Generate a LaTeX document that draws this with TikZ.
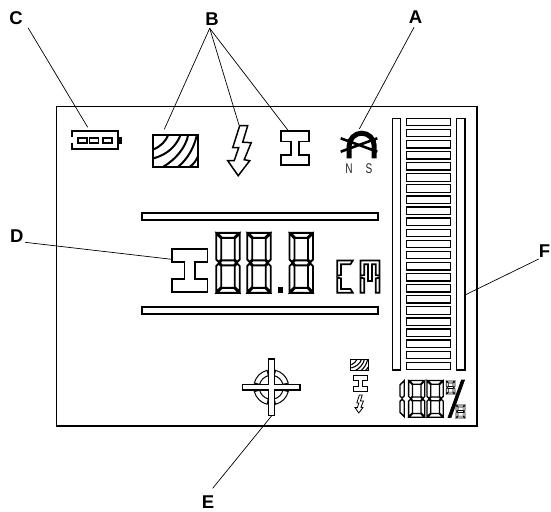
\documentclass[tikz,border=0pt]{standalone}
\usepackage{fontspec}
\setmainfont{Liberation Sans}
\newcommand{\sgA}{\filldraw[seg] (\dx+\dg,\dy) -- (\dx+\dw-\dg,\dy) -- (\dx+\dw-\dt-\dg,\dy+\dt) -- (\dx+\dt+\dg,\dy+\dt) -- cycle;}
\newcommand{\sgD}{\filldraw[seg] (\dx+\dg,\dy+\dh) -- (\dx+\dw-\dg,\dy+\dh) -- (\dx+\dw-\dt-\dg,\dy+\dh-\dt) -- (\dx+\dt+\dg,\dy+\dh-\dt) -- cycle;}
\newcommand{\sgG}{\filldraw[seg] (\dx+\dg+\dt/2,\dy+\dh/2) -- (\dx+\dt+\dg,\dy+\dh/2-\dt/2) -- (\dx+\dw-\dt-\dg,\dy+\dh/2-\dt/2) -- (\dx+\dw-\dt/2-\dg,\dy+\dh/2) -- (\dx+\dw-\dt-\dg,\dy+\dh/2+\dt/2) -- (\dx+\dt+\dg,\dy+\dh/2+\dt/2) -- cycle;}
\newcommand{\sgF}{\filldraw[seg] (\dx,\dy+\dg) -- (\dx+\dt,\dy+\dt+\dg) -- (\dx+\dt,\dy+\dh/2-\dt/2-\dg) -- (\dx+\dt/2,\dy+\dh/2-\dg) -- (\dx,\dy+\dh/2-\dt/2-\dg) -- cycle;}
\newcommand{\sgE}{\filldraw[seg] (\dx,\dy+\dh-\dg) -- (\dx+\dt,\dy+\dh-\dt-\dg) -- (\dx+\dt,\dy+\dh/2+\dt/2+\dg) -- (\dx+\dt/2,\dy+\dh/2+\dg) -- (\dx,\dy+\dh/2+\dt/2+\dg) -- cycle;}
\newcommand{\sgB}{\filldraw[seg] (\dx+\dw,\dy+\dg) -- (\dx+\dw-\dt,\dy+\dt+\dg) -- (\dx+\dw-\dt,\dy+\dh/2-\dt/2-\dg) -- (\dx+\dw-\dt/2,\dy+\dh/2-\dg) -- (\dx+\dw,\dy+\dh/2-\dt/2-\dg) -- cycle;}
\newcommand{\sgC}{\filldraw[seg] (\dx+\dw,\dy+\dh-\dg) -- (\dx+\dw-\dt,\dy+\dh-\dt-\dg) -- (\dx+\dw-\dt,\dy+\dh/2+\dt/2+\dg) -- (\dx+\dw-\dt/2,\dy+\dh/2+\dg) -- (\dx+\dw,\dy+\dh/2+\dt/2+\dg) -- cycle;}
\newcommand{\setdig}[6]{\def\dx{#1}\def\dy{#2}\def\dw{#3}\def\dh{#4}\def\dt{#5}\def\dg{#6}}
\newcommand{\eightseg}[6]{\setdig{#1}{#2}{#3}{#4}{#5}{#6}\sgA\sgB\sgC\sgD\sgE\sgF\sgG}
\newcommand{\beamshape}[4]{% x y w h
  \filldraw[icon] (#1,#2) -- ++(#3,0) -- ++(0,{0.3*#4}) -- ++({-0.35*#3},0) -- ++(0,{0.4*#4}) -- ++({0.35*#3},0) -- ++(0,{0.3*#4}) -- ++({-#3},0) -- ++(0,{-0.3*#4}) -- ++({0.35*#3},0) -- ++(0,{-0.4*#4}) -- ++({-0.35*#3},0) -- cycle;}
\newcommand{\woodshape}[5]{% x y w h lw
  \begin{scope}
  \clip (#1,#2) rectangle ++(#3,#4);
  \begin{scope}[shift={(#1,#2)},xscale=#3/138,yscale=#4/97,line width=#5]
  \draw (3,45) .. controls (25,35) and (40,20) .. (48,0);
  \draw (3,72) .. controls (45,60) and (72,35) .. (85,0);
  \draw (33,97) .. controls (70,75) and (100,40) .. (108,0);
  \draw (78,97) .. controls (105,75) and (125,40) .. (133,5);
  \draw (113,97) .. controls (125,90) and (133,75) .. (138,65);
  \end{scope}
  \end{scope}
  \draw[line width=#5] (#1,#2) rectangle ++(#3,#4);}
\newcommand{\boltshape}[4]{% x y scale lw
  \begin{scope}[shift={(#1,#2)},scale=#3]
  \draw[line width=#4,line join=miter,fill=white] (12,0) -- (20,0) -- (15,16.5) -- (23.5,17) -- (16.5,34) -- (22,35) -- (10.5,50) -- (0,35) -- (6.5,35) -- (11,22) -- (5,22) -- cycle;
  \end{scope}}
\tikzset{
  seg/.style={draw=black,fill=white,line width=1.9pt,line join=miter},
  icon/.style={draw=black,fill=white,line width=1.6pt,line join=miter},
  panel/.style={draw=black,fill=white,line width=1.3pt},
  conn/.style={draw=black,line width=0.7pt},
  lab/.style={font=\bfseries\fontsize{18.5}{18.5}\selectfont,text=black,inner sep=0pt},
  pole/.style={font=\fontsize{14}{14}\selectfont,text=black!85,inner sep=0pt,xscale=.72,transform shape}
}
\begin{document}
\begin{tikzpicture}[x=1pt,y=-1pt]
\useasboundingbox (0,0) rectangle (551,511);
% frame
\draw[black,line width=1.5pt] (56.5,106.5) rectangle (477,426);
% bargraph
\draw[panel] (392.3,118.3) rectangle (400.7,370);
\draw[panel] (456.7,118.3) rectangle (465,370);
\foreach \i in {0,...,22}
  \draw[panel] (406.7,{118.3+11.09*\i}) rectangle (450.7,{125.7+11.09*\i});
% horizontal bars
\draw[panel,line width=1.8pt] (141.7,213) rectangle (378.3,220.3);
\draw[panel,line width=1.8pt] (141.7,307) rectangle (378.3,314.3);
% main readout
\beamshape{172}{249}{35.5}{43}
\eightseg{216.2}{232.8}{23.5}{60}{5}{0.8}
\eightseg{247.2}{232.8}{23.5}{60}{5}{0.8}
\eightseg{289.5}{232.8}{23.5}{60}{5}{0.8}
\fill[black] (278.3,286.7) rectangle (283.3,293.3);
% cm
\begin{scope}[seg/.append style={line width=1.7pt}]
\filldraw[seg] (337.2,260.5) -- (352.8,260.5) -- (350.5,264.2) -- (341,264.2) -- (341,275) -- (337.2,275.8) -- cycle;
\filldraw[seg] (337.2,277.6) -- (341,278.4) -- (341,289) -- (350.5,289) -- (352.8,292.8) -- (337.2,292.8) -- cycle;
\filldraw[seg] (360.5,260.5) -- (379.5,260.5) -- (379.5,275.8) -- (375.8,275) -- (375.8,264.2) -- (372,264.2) -- (372,281) -- (368,281) -- (368,264.2) -- (364.2,264.2) -- (364.2,275) -- (360.5,275.8) -- cycle;
\filldraw[seg] (360.5,277.6) -- (364.2,278.4) -- (364.2,292.8) -- (360.5,292.8) -- cycle;
\filldraw[seg] (375.8,278.4) -- (379.5,277.6) -- (379.5,292.8) -- (375.8,292.8) -- cycle;
\end{scope}
% battery
\draw[black,line width=2pt] (72.2,137) -- (72.2,131.2) -- (118,131.2) -- (118,149) -- (72.2,149) -- (72.2,143);
\fill[black] (118.3,136.7) rectangle (122.3,144);
\foreach \x in {77.8,89.5,103.2}
  \draw[black,line width=1.8pt] (\x,137.6) rectangle ++(9,5.4);
% wood
\woodshape{152.6}{134.6}{45.6}{32}{2pt}
% bolt
\boltshape{227.7}{125.7}{1}{1.5pt}
% top beam
\beamshape{281}{131.2}{28}{34}
% magnet
\draw[black,line width=5pt] (349.2,158.3) -- (349.2,145.7) arc[start angle=180,end angle=360,radius=12.5] -- (374.2,158.3);
\draw[black,line width=2.6pt] (340.7,138.3) -- (377.3,151.7);
\draw[black,line width=2.6pt] (340.7,151.7) -- (377.3,138.3);
\node[pole] (poleN) at (349,168.3) {N};
\node[pole] (poleS) at (369,168.3) {S};
% crosshair
\foreach \a in {0,90,180,270}
  \draw[black,line width=1pt] (271.3,387.3) ++(\a+14:17.5) arc[start angle=\a+14,end angle=\a+76,radius=17.5] -- ++(\a+76+180:5.5) arc[start angle=\a+76,end angle=\a+14,radius=12] -- cycle;
\draw[panel] (242.7,384.3) rectangle (300,390);
\draw[panel] (268.3,359) rectangle (274.3,415.7);
\fill[white] (267.5,385) rectangle (275,389.3);
% small icons
\woodshape{350.9}{359.5}{17.2}{11.4}{1.1pt}
\begin{scope}[icon/.append style={line width=1pt}]
\beamshape{353.3}{375.7}{14}{16}
\end{scope}
\boltshape{355}{395}{0.36}{0.8pt}
% percent readout
\begin{scope}[seg/.append style={line width=1.3pt}]
\setdig{398}{380}{6.3}{37.3}{4.4}{0.6}\sgB\sgC
\eightseg{408.6}{380.4}{16.2}{36.8}{3.8}{0.5}
\eightseg{427}{380.4}{16.2}{36.8}{3.8}{0.5}
\end{scope}
\begin{scope}[seg/.append style={line width=.7pt}]
\eightseg{446.3}{381}{8.6}{13}{1.9}{0.2}
\eightseg{456}{405}{9}{13}{1.9}{0.2}
\filldraw[seg,fill=black] (461.5,380) -- (464.5,380) -- (451,417.5) -- (448,417.5) -- cycle;
\end{scope}
% labels
\node[lab] (labA) at (415.5,17.5) {A};
\node[lab] (labB) at (212,19) {B};
\node[lab] (labC) at (16,18.5) {C};
\node[lab] (labD) at (16.7,236) {D};
\node[lab] (labE) at (208,502) {E};
\node[lab] (labF) at (544.5,251) {F};
% connector ends
\coordinate (tA) at (359.3,129);
\coordinate (tB1) at (164.3,129.3);
\coordinate (tB2) at (239,125);
\coordinate (tB3) at (288.3,130.7);
\coordinate (tC) at (87.7,127.3);
\coordinate (tD) at (171.7,259.3);
\coordinate (tE) at (271.7,415.7);
\coordinate (tF) at (465,295);
\draw[conn] ([shift={(-1.5,9.8)}]labA.center) -- (tA);
\draw[conn] ([shift={(-2.3,9.3)}]labB.center) -- (tB1);
\draw[conn] ([shift={(-2.3,9.3)}]labB.center) -- (tB2);
\draw[conn] ([shift={(-2.3,9.3)}]labB.center) -- (tB3);
\draw[conn] ([shift={(12,9.2)}]labC.center) -- (tC);
\draw[conn] ([shift={(8.3,6.3)}]labD.center) -- (tD);
\draw[conn] ([shift={(4.7,-13.7)}]labE.center) -- (tE);
\draw[conn] ([shift={(-5.8,8)}]labF.center) -- (tF);
\end{tikzpicture}
\end{document}
